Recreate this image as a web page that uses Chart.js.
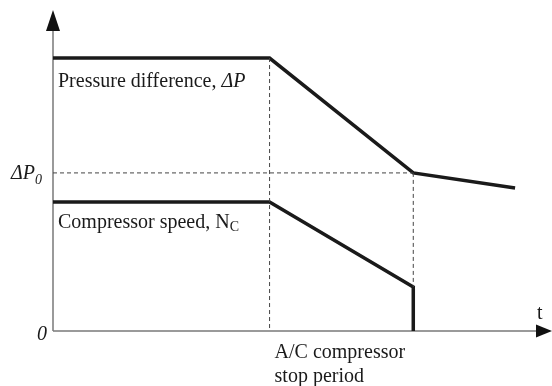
<!DOCTYPE html>
<html>
<head>
<meta charset="utf-8">
<script src="https://cdn.jsdelivr.net/npm/chart.js@4.4.1/dist/chart.umd.min.js"></script>
<style>
  html, body { margin: 0; padding: 0; background: #fff; }
  #wrap { width: 552px; height: 386px; }
</style>
</head>
<body>
<div id="wrap"><canvas id="chart"></canvas></div>
<script>
// schematic values (arbitrary units)
const timeP = [0, 43.4, 72.2, 92.6];
const pressure = [85.3, 85.3, 49.4, 44.7];
const timeN = [0, 43.4, 72.2, 72.2];
const speed = [40.3, 40.3, 13.75, 0];
const dP0 = 49.4;
const stopStart = 43.4;
const stopEnd = 72.2;

const pts = (xs, ys) => xs.map((x, i) => ({ x: x, y: ys[i] }));

const FONT = '"Liberation Serif", "Times New Roman", serif';
const INK = '#1a1a1a';

// axes with arrow heads
const axesPlugin = {
  id: 'axes',
  beforeDatasetsDraw(chart) {
    const { ctx, chartArea: a } = chart;
    ctx.save();
    ctx.strokeStyle = '#7a7a7a';
    ctx.lineWidth = 1.5;
    ctx.beginPath();
    ctx.moveTo(a.left, a.bottom);
    ctx.lineTo(a.left, a.top + 18);
    ctx.moveTo(a.left, a.bottom);
    ctx.lineTo(a.right - 14, a.bottom);
    ctx.stroke();
    ctx.fillStyle = '#111';
    ctx.beginPath();
    ctx.moveTo(a.left, a.top - 1);
    ctx.lineTo(a.left - 7, a.top + 20);
    ctx.lineTo(a.left + 7, a.top + 20);
    ctx.closePath();
    ctx.fill();
    ctx.beginPath();
    ctx.moveTo(a.right, a.bottom);
    ctx.lineTo(a.right - 16, a.bottom - 6.5);
    ctx.lineTo(a.right - 16, a.bottom + 6.5);
    ctx.closePath();
    ctx.fill();
    ctx.restore();
  }
};

// labels
const labelPlugin = {
  id: 'labels',
  afterDraw(chart) {
    const { ctx, scales } = chart;
    const X = v => scales.x.getPixelForValue(v);
    const Y = v => scales.y.getPixelForValue(v);
    ctx.save();
    ctx.fillStyle = INK;
    ctx.textBaseline = 'alphabetic';

    function runs(x, y, parts) {
      parts.forEach(p => {
        ctx.font = (p.italic ? 'italic ' : '') + (p.size || 20) + 'px ' + FONT;
        ctx.fillText(p.t, x, y + (p.dy || 0));
        x += ctx.measureText(p.t).width;
      });
    }

    const l = X(0) + 5;
    runs(l, Y(pressure[0]) + 29, [{ t: 'Pressure difference, ' }, { t: 'ΔP', italic: true }]);
    runs(l, Y(speed[0]) + 26, [{ t: 'Compressor speed, N' }, { t: 'C', size: 14, dy: 3 }]);
    runs(X(0) - 42, Y(dP0) + 6, [{ t: 'ΔP', italic: true }, { t: '0', italic: true, size: 14, dy: 5 }]);
    runs(X(0) - 16, Y(0) + 9, [{ t: '0', italic: true }]);
    runs(X(0) + 484, Y(0) - 12, [{ t: 't' }]);
    runs(X(stopStart) + 5, Y(0) + 27, [{ t: 'A/C compressor' }]);
    runs(X(stopStart) + 5, Y(0) + 51, [{ t: 'stop period' }]);
    ctx.restore();
  }
};

const dashed = {
  borderColor: '#444',
  borderWidth: 1,
  borderDash: [4, 3],
  pointRadius: 0,
  showLine: true,
  fill: false,
  clip: false
};
const solid = {
  borderColor: INK,
  borderWidth: 3.5,
  pointRadius: 0,
  showLine: true,
  fill: false,
  clip: false,
  borderJoinStyle: 'miter',
  borderCapStyle: 'butt'
};

new Chart(document.getElementById('chart'), {
  type: 'scatter',
  data: {
    datasets: [
      Object.assign({ label: 'stop start', data: [{ x: stopStart, y: pressure[1] }, { x: stopStart, y: 0 }] }, dashed),
      Object.assign({ label: 'stop end', data: [{ x: stopEnd, y: dP0 }, { x: stopEnd, y: speed[2] }] }, dashed),
      Object.assign({ label: 'ΔP0', data: [{ x: 0, y: dP0 }, { x: stopEnd, y: dP0 }] }, dashed),
      Object.assign({ label: 'Pressure difference', data: pts(timeP, pressure) }, solid),
      Object.assign({ label: 'Compressor speed', data: pts(timeN, speed) }, solid)
    ]
  },
  options: {
    responsive: true,
    maintainAspectRatio: false,
    animation: false,
    layout: { padding: { left: 53, right: 0, top: 11, bottom: 55 } },
    plugins: { legend: { display: false }, tooltip: { enabled: false } },
    scales: {
      x: { type: 'linear', min: 0, max: 100, display: false },
      y: { type: 'linear', min: 0, max: 100, display: false }
    }
  },
  plugins: [axesPlugin, labelPlugin]
});
</script>
</body>
</html>
